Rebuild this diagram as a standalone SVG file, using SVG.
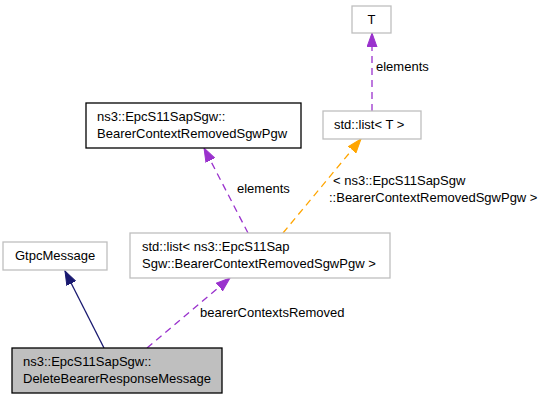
<svg xmlns="http://www.w3.org/2000/svg" width="547" height="400" viewBox="0 0 547 400">
<style>
text{font-family:"Liberation Sans",Arial,sans-serif;font-size:13px;fill:#000}
.n{fill:#fff;stroke:#bfbfbf;stroke-width:1.3}
.b{fill:#fff;stroke:#000;stroke-width:1.3}
.g{fill:#bfbfbf;stroke:#000;stroke-width:1.3}
.e{fill:none;stroke-width:1.3}
.p{stroke:#9a32cd;stroke-dasharray:7,5}
.o{stroke:#ffa500;stroke-dasharray:7,5}
.v{stroke:#191970}
</style>
<defs>
<marker id="ap" markerUnits="userSpaceOnUse" markerWidth="15" markerHeight="11" refX="14" refY="5.5" orient="auto"><path d="M0,0.5 L14,5.5 L0,10.5 z" fill="#9a32cd" stroke="#9a32cd"/></marker>
<marker id="ao" markerUnits="userSpaceOnUse" markerWidth="15" markerHeight="11" refX="14" refY="5.5" orient="auto"><path d="M0,0.5 L14,5.5 L0,10.5 z" fill="#ffa500" stroke="#ffa500"/></marker>
<marker id="av" markerUnits="userSpaceOnUse" markerWidth="15" markerHeight="11" refX="14" refY="5.5" orient="auto"><path d="M0,0.5 L14,5.5 L0,10.5 z" fill="#191970" stroke="#191970"/></marker>
</defs>
<g id="edges">
<path class="e v" d="M104,348 L65,271" marker-end="url(#av)"/>
<path class="e p" d="M147,348 L230,278" marker-end="url(#ap)"/>
<text x="200" y="317">bearerContextsRemoved</text>
<path class="e p" d="M248,233 L204,148" marker-end="url(#ap)"/>
<text x="237" y="193">elements</text>
<path class="e o" d="M283,233 L361,139" marker-end="url(#ao)"/>
<text x="333" y="185">&lt; ns3::EpcS11SapSgw</text>
<text x="329" y="202">::BearerContextRemovedSgwPgw &gt;</text>
<path class="e p" d="M372,111 L372,33" marker-end="url(#ap)"/>
<text x="376" y="71">elements</text>
</g>
<g id="node-T">
<rect class="n" x="352" y="6" width="39" height="27"/>
<text x="371.5" y="24" text-anchor="middle">T</text>
</g>
<g id="node-listT">
<rect class="n" x="323" y="111" width="98" height="28"/>
<text x="334" y="129">std::list&lt; T &gt;</text>
</g>
<g id="node-bcr">
<rect class="b" x="86" y="103" width="215" height="45"/>
<text x="97" y="121">ns3::EpcS11SapSgw::</text>
<text x="97" y="138">BearerContextRemovedSgwPgw</text>
</g>
<g id="node-list">
<rect class="n" x="130" y="233" width="260" height="45"/>
<text x="142" y="251">std::list&lt; ns3::EpcS11Sap</text>
<text x="142" y="268">Sgw::BearerContextRemovedSgwPgw &gt;</text>
</g>
<g id="node-gtpc">
<rect class="n" x="3" y="242" width="104" height="28"/>
<text x="15" y="260">GtpcMessage</text>
</g>
<g id="node-delete">
<rect class="g" x="12" y="348" width="210" height="45"/>
<text x="23" y="366">ns3::EpcS11SapSgw::</text>
<text x="23" y="383">DeleteBearerResponseMessage</text>
</g>
</svg>
